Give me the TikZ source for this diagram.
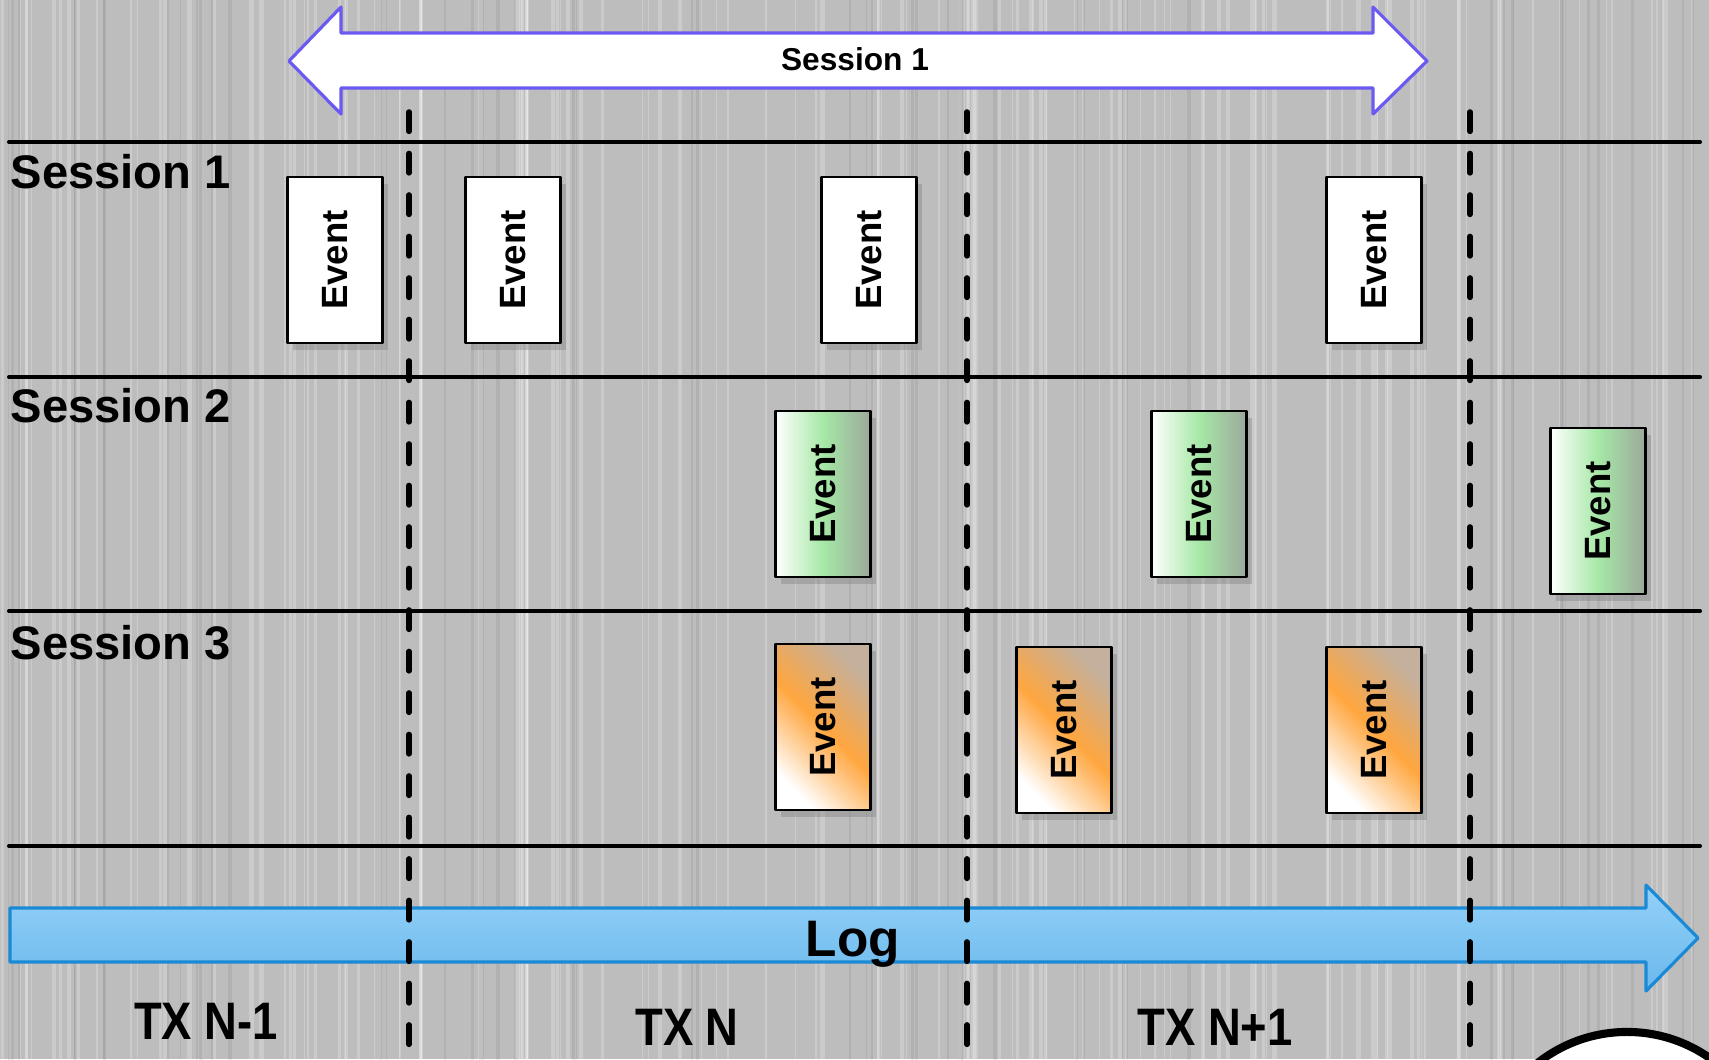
\documentclass[tikz,border=0pt]{standalone}
\usepackage{fontspec}
\setmainfont{Liberation Sans}
\newfontfamily\txfont[FakeStretch=0.86]{Liberation Sans}
\usepackage{graphicx}
\usetikzlibrary{shadows}
\definecolor{metal}{HTML}{BDBDBD}
\definecolor{spanline}{HTML}{6A5AF2}
\definecolor{logtop}{HTML}{93D1F8}
\definecolor{logbot}{HTML}{6AB8EC}
\definecolor{logline}{HTML}{1B8AD6}
\definecolor{evgreen}{HTML}{A6E8A6}
\definecolor{evgreengray}{HTML}{9CA89C}
\definecolor{evorange}{HTML}{FFA63F}
\definecolor{evtan}{HTML}{C4B09C}

\begin{document}
\begin{tikzpicture}[x=0.01cm, y=-0.01cm, line cap=round, line join=round,
	event/.style={draw=black, line width=0.8pt, minimum width=0.95cm, minimum height=1.66cm, inner sep=0pt,
		font=\fontsize{10.4}{12}\selectfont\bfseries,
		drop shadow={opacity=0.4, shadow xshift=1.5pt, shadow yshift=-2pt}},
	evplain/.style={event, fill=white},
	evgr/.style={event, left color=white, right color=evgreengray, middle color=evgreen},
	evor/.style={event, left color=white, right color=evtan, middle color=evorange, shading angle=135},
	lane/.style={line width=1.15pt},
	txsplit/.style={line width=1.6pt, dash pattern=on 5.5pt off 6.3pt},
	lanelabel/.style={anchor=base west, inner sep=0pt, font=\fontsize{13.4}{15}\selectfont\bfseries},
	txlabel/.style={inner sep=0pt, font=\txfont\fontsize{15}{17}\selectfont\bfseries}]
\useasboundingbox (0,0) rectangle (1709,1059);
\clip (0,0) rectangle (1709,1059);
%========================
% brushed metal background
%========================
\fill[metal] (0,0) rectangle (1709,1059);
\pgfmathsetseed{11}
\foreach \k in {1,...,140}{
	\pgfmathsetmacro{\sx}{rnd*1709}
	\pgfmathsetmacro{\sw}{0.2+rnd*1.2}
	\draw[white, opacity=0.22, line width=\sw pt] (\sx,0) -- (\sx,1059);
}
\foreach \k in {1,...,60}{
	\pgfmathsetmacro{\sx}{rnd*1709}
	\pgfmathsetmacro{\sw}{0.2+rnd*1.0}
	\draw[black, opacity=0.06, line width=\sw pt] (\sx,0) -- (\sx,1059);
}

%========================
% session span arrow
%========================
\draw[spanline, line width=0.9pt, fill=white]
	(289,61) -- (341,7) -- (341,33) -- (1373,33) -- (1373,7) -- (1427,61)
	-- (1373,114) -- (1373,88) -- (341,88) -- (341,114) -- cycle;
\node[anchor=base, inner sep=0pt, font=\fontsize{9}{11}\selectfont\bfseries] (span) at (855,70) {Session 1};

%========================
% lanes
%========================
\foreach \ly in {142,377,611,846}
	\draw[lane] (9,\ly) -- (1700,\ly);
\node[lanelabel] (lane1) at (10,188) {Session 1};
\node[lanelabel] (lane2) at (10,422) {Session 2};
\node[lanelabel] (lane3) at (10,659) {Session 3};

% session 1 events
\node[evplain] (e11) at (335,260) {\rotatebox{90}{Event}};
\node[evplain] (e12) at (513,260) {\rotatebox{90}{Event}};
\node[evplain] (e13) at (869,260) {\rotatebox{90}{Event}};
\node[evplain] (e14) at (1374,260) {\rotatebox{90}{Event}};
% session 2 events
\node[evgr] (e21) at (823,494) {\rotatebox{90}{Event}};
\node[evgr] (e22) at (1199,494) {\rotatebox{90}{Event}};
\node[evgr] (e23) at (1598,511) {\rotatebox{90}{Event}};
% session 3 events
\node[evor] (e31) at (823,727) {\rotatebox{90}{Event}};
\node[evor] (e32) at (1064,730) {\rotatebox{90}{Event}};
\node[evor] (e33) at (1374,730) {\rotatebox{90}{Event}};

%========================
% log arrow
%========================
\draw[logline, line width=0.9pt, top color=logtop, bottom color=logbot]
	(10,908) -- (1646,908) -- (1646,885) -- (1698,938) -- (1646,991)
	-- (1646,962) -- (10,962) -- cycle;
\node[anchor=base, inner sep=0pt, font=\fontsize{14.6}{17}\selectfont\bfseries] (log) at (853,956) {Log};

% transaction boundaries
\foreach \tx in {409,967,1470}
	\draw[txsplit] (\tx,112) -- (\tx,1065);
\node[txlabel] (txa) at (206,1021) {TX N-1};
\node[txlabel] (txb) at (687,1027) {TX N};
\node[txlabel] (txc) at (1215,1027) {TX N+1};

% corner disc
\draw[line width=2.3pt, fill=white] (1627,1176) circle[radius=1.44cm];
\end{tikzpicture}
\end{document}
